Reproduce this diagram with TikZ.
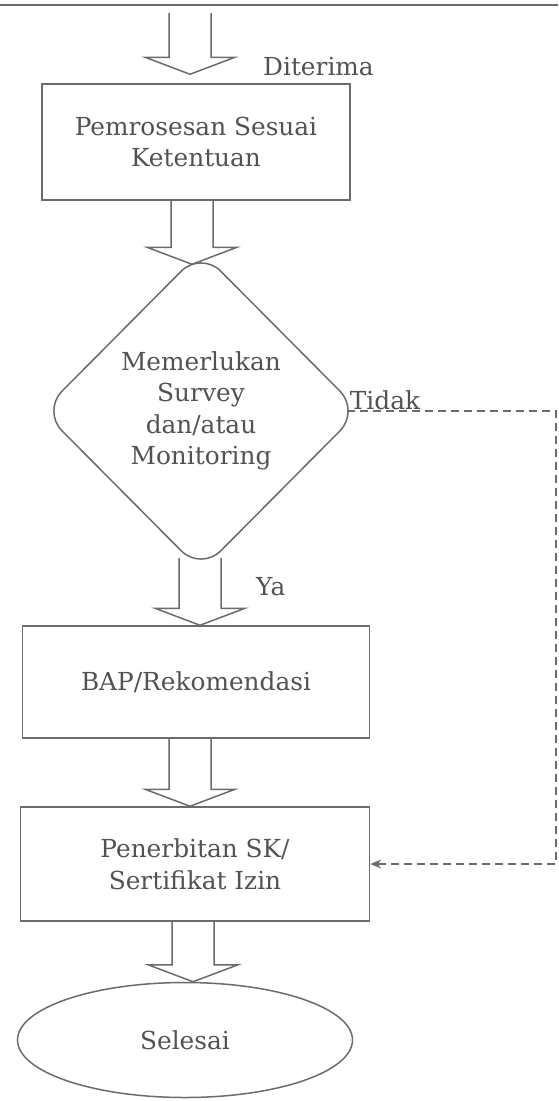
\documentclass[tikz,border=0pt]{standalone}
\usepackage{fontspec}
\setmainfont{DejaVu Serif}
\usepackage{tikz}
\usetikzlibrary{arrows.meta,positioning,calc,shapes.geometric}
\definecolor{linegray}{gray}{0.42}
\definecolor{textgray}{gray}{0.32}
% hollow block arrow: start point, tip point, x of shaft axis
\newcommand{\hollowarrow}[3]{%
  \draw[hollow] let \p1=(#1), \p2=(#2) in
    (#3-21pt,\y1) -- (#3-21pt,\y2+17pt) -- (#3-45pt,\y2+17pt) -- (#3,\y2)
    -- (#3+45pt,\y2+17pt) -- (#3+21pt,\y2+17pt) -- (#3+21pt,\y1);
}

\begin{document}
\begin{tikzpicture}[
  x=1pt, y=-1pt,
  font=\fontsize{24.8}{31.5}\selectfont,
  box/.style={draw=linegray, line width=1.5pt, text=textgray, align=center},
  decide/.style={box, diamond, rounded corners=28pt, inner sep=0pt},
  stopnode/.style={box, ellipse, inner sep=0pt},
  hollow/.style={draw=linegray, line width=1.5pt, line join=miter},
  lbl/.style={text=textgray, inner sep=1pt},
  dashline/.style={draw=linegray, line width=1.4pt, dash pattern=on 8pt off 5pt},
]
  \useasboundingbox (0,0) rectangle (558,1101);
  \draw[linegray, line width=1.5pt] (0,5) -- (558,5);

  \coordinate (start) at (190,13);
  \node[box, minimum width=308pt, minimum height=116pt] (proc) at (196,142)
    {Pemrosesan Sesuai\\Ketentuan};
  \node[decide, minimum width=318pt, minimum height=320pt] (check) at (201,411)
    {Memerlukan\\Survey\\dan/atau\\Monitoring};
  \node[box, minimum width=347pt, minimum height=112pt] (bap) at (196,682)
    {BAP/Rekomendasi};
  \node[box, minimum width=349pt, minimum height=114pt] (sk) at (195,864)
    {Penerbitan SK/\\Sertifikat Izin};
  \node[stopnode, minimum width=335pt, minimum height=115pt] (done) at (185,1040)
    {Selesai};

  \hollowarrow{start}{$(proc.north)+(0,-9)$}{190pt}
  \hollowarrow{proc.south}{$(check.north)+(0,14)$}{192pt}
  \hollowarrow{$(check.south)+(0,-14)$}{bap.north}{200pt}
  \hollowarrow{bap.south}{sk.north}{190pt}
  \hollowarrow{sk.south}{done.north}{193pt}

  \node[lbl, anchor=west] (acc) at (262,67) {Diterima};
  \node[lbl, anchor=west] (yes) at (255,587) {Ya};
  \node[lbl, anchor=south west, xshift=-12pt] (no) at (check.east) {Tidak};

  \draw[dashline, -{Stealth[length=11pt, width=9pt]}] ([xshift=-14pt]check.east) -- (556,411) |- (sk.east);
\end{tikzpicture}
\end{document}
